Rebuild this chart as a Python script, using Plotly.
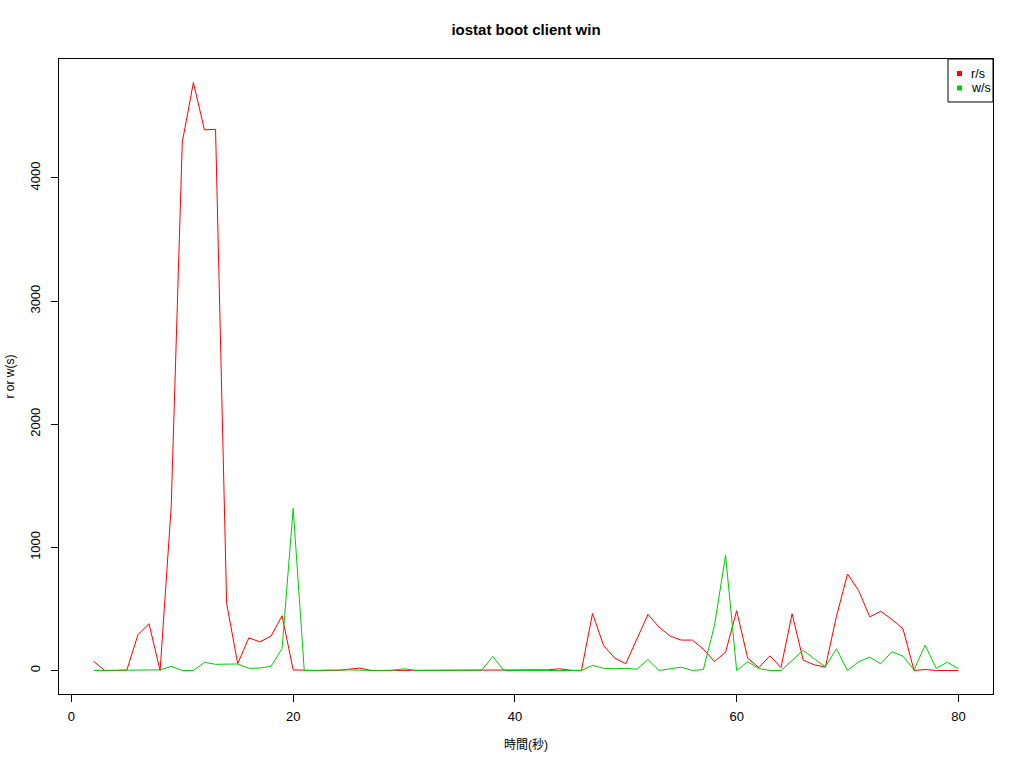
import plotly.graph_objects as go

# ---- data ----
seconds = [2, 3, 4, 5, 6, 7, 8, 9, 10, 11, 12, 13, 14, 15, 16, 17, 18, 19, 20,
           21, 22, 23, 24, 25, 26, 27, 28, 29, 30, 31, 32, 33, 34, 35, 36, 37, 38,
           39, 40, 41, 42, 43, 44, 45, 46, 47, 48, 49, 50, 51, 52, 53, 54, 55, 56,
           57, 58, 59, 60, 61, 62, 63, 64, 65, 66, 67, 68, 69, 70, 71, 72, 73, 74,
           75, 76, 77, 78, 79, 80]
reads = [75, 0, 0, 3, 290, 380, 0, 1330, 4290, 4775, 4390, 4395, 545, 55, 265, 232, 279, 445, 5,
         0, 0, 2, 0, 10, 20, 0, 0, 2, 0, 0, 0, 2, 0, 0, 2, 2, 0,
         0, 0, 0, 0, 5, 14, 2, 0, 463, 202, 100, 55, 257, 455, 352, 279, 247, 247,
         173, 73, 149, 485, 98, 24, 119, 24, 461, 84, 46, 27, 439, 783, 650, 436, 480, 415,
         339, 0, 8, 0, 0, 0]
writes = [0, 0, 0, 2, 2, 3, 5, 33, 0, 0, 66, 50, 50, 53, 18, 20, 33, 179, 1317,
          0, 0, 3, 0, 5, 3, 0, 0, 2, 14, 0, 0, 2, 5, 3, 0, 2, 114,
          0, 0, 0, 0, 5, 3, 2, 0, 42, 18, 14, 18, 10, 89, 0, 14, 27, 0,
          8, 366, 935, 0, 71, 16, 0, 0, 80, 163, 95, 30, 176, 0, 71, 108, 54, 152,
          116, 5, 206, 16, 68, 14]
series_names = ["r/s", "w/s"]
series_colors = ["#FF0000", "#00CD00"]
x_ticks = [0, 20, 40, 60, 80]
y_ticks = [0, 1000, 2000, 3000, 4000]
title_text = "iostat boot client win"
x_title = "時間(秒)"
y_title = "r or w(s)"

# ---- layout geometry ----
W, H = 1024, 768
L, R, T, B = 59, 993, 59, 694
FONT = "Liberation Sans, Arial, Helvetica, Noto Sans CJK JP, sans-serif"


def px(xp):
    return (xp - L) / (R - L)


def py(yp):
    return (B - yp) / (B - T)


xmin, xmax = min(seconds), max(seconds)
xpad = 0.04 * (xmax - xmin)
ymax = max(max(reads), max(writes))
ypad = 0.04 * ymax

fig = go.Figure()
for vals, name, col in zip([reads, writes], series_names, series_colors):
    fig.add_trace(go.Scatter(x=seconds, y=vals, mode="lines", name=name,
                             line=dict(color=col, width=1), showlegend=False,
                             hoverinfo="skip"))

shapes = []
annotations = []
# legend box
shapes.append(dict(type="rect", xref="paper", yref="paper",
                   x0=px(948), x1=px(993), y0=py(102), y1=py(59),
                   line=dict(color="#000000", width=1), fillcolor="white"))
for i, (name, col) in enumerate(zip(series_names, series_colors)):
    cy = 73.5 + 14.5 * i
    shapes.append(dict(type="rect", xref="paper", yref="paper",
                       x0=px(957), x1=px(962), y0=py(cy + 2.5), y1=py(cy - 2.5),
                       line=dict(width=0), fillcolor=col))
    annotations.append(dict(text=name, xref="paper", yref="paper",
                            x=px(969), y=py(cy), xanchor="left", yanchor="middle",
                            showarrow=False, font=dict(family=FONT, size=12.5, color="black")))

annotations.append(dict(text=x_title, xref="paper", yref="paper",
                        x=0.5, y=py(745), xanchor="center", yanchor="middle",
                        showarrow=False, font=dict(family=FONT, size=12, color="black")))
annotations.append(dict(text=y_title, xref="paper", yref="paper",
                        x=px(9), y=0.5, xanchor="center", yanchor="middle", textangle=-90,
                        showarrow=False, font=dict(family=FONT, size=12, color="black")))

fig.update_layout(
    width=W, height=H,
    margin=dict(l=L, r=W - R, t=T, b=H - B),
    paper_bgcolor="white", plot_bgcolor="white",
    title=dict(text="<b>" + title_text + "</b>", x=526 / W,
               xanchor="center", y=1 - 30 / H, yanchor="middle",
               font=dict(family=FONT, size=15, color="black")),
    font=dict(family=FONT, size=12, color="black"),
    shapes=shapes, annotations=annotations,
    showlegend=False,
)
fig.update_xaxes(range=[xmin - xpad, xmax + xpad], tickvals=x_ticks,
                 showgrid=False, zeroline=False, showline=True, mirror=True,
                 linecolor="black", linewidth=1, ticks="outside", ticklen=7,
                 tickcolor="black", ticklabelstandoff=3,
                 tickfont=dict(family=FONT, size=13, color="black"))
fig.update_yaxes(range=[-ypad, ymax + ypad], tickvals=y_ticks, tickangle=-90,
                 showgrid=False, zeroline=False, showline=True, mirror=True,
                 linecolor="black", linewidth=1, ticks="outside", ticklen=7,
                 tickcolor="black", ticklabelstandoff=6,
                 tickfont=dict(family=FONT, size=13, color="black"))

fig.write_html("out.html", config={"displayModeBar": False},
               post_script="document.body.style.margin='0';document.body.style.overflow='hidden';")
